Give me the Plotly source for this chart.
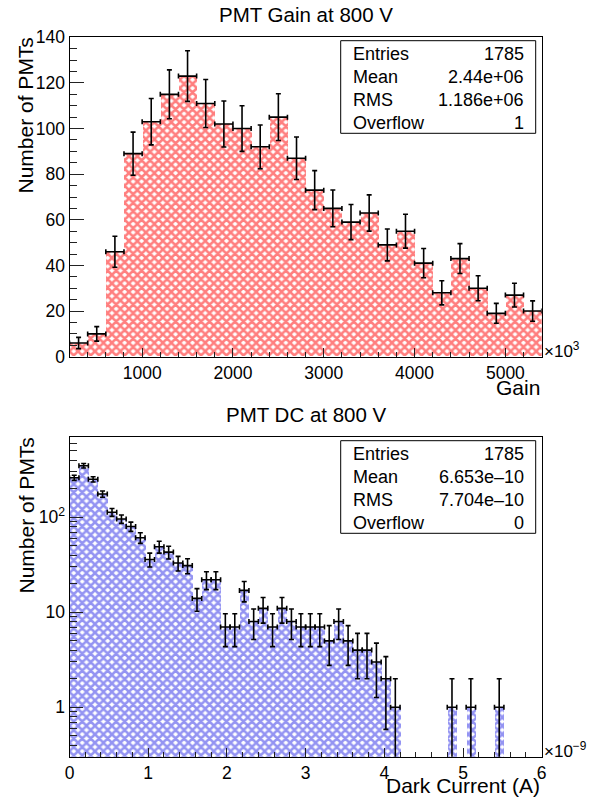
import numpy as np
import plotly.graph_objects as go

# ---------------- data ----------------
gain_bin_low = 200.0      # x10^3
gain_bin_width = 200.0
gain_counts = [6, 10, 46, 89, 103, 115, 123, 111, 102, 100, 92, 105, 87,
               73, 65, 59, 63, 49, 55, 41, 28, 43, 30, 19, 27, 20]
gain_stats_labels = ["Entries", "Mean", "RMS", "Overflow"]
gain_stats_values = ["1785", "2.44e+06", "1.186e+06", "1"]

dc_bin_low = 0.0          # x10^-9 A
dc_bin_width = 0.12
dc_counts = [261, 349, 251, 176, 113, 96, 80, 61, 36, 49,
             43, 33, 31, 14, 22, 22, 7, 7, 17, 8,
             11, 7, 11, 8, 7, 7, 7, 5, 8, 5,
             4, 4, 3, 2, 1, 0, 0, 0, 0, 0,
             1, 0, 1, 0, 0, 1, 0, 0, 0, 0]
dc_stats_labels = ["Entries", "Mean", "RMS", "Overflow"]
dc_stats_values = ["1785", "6.653e\u201310", "7.704e\u201310", "0"]

gain_xticks = [1000, 2000, 3000, 4000, 5000]
gain_yticks = [0, 20, 40, 60, 80, 100, 120, 140]
dc_xticks = [0, 1, 2, 3, 4, 5, 6]
dc_yticks = [1, 10, 100]
dc_yticktext = ["1", "10", "10<sup>2</sup>"]

# ---------------- geometry helpers ----------------
W, H = 602, 802
def px(x):
    return x / W
def py(y):
    return 1 - y / H

FONT = "Liberation Sans, Arial, Helvetica, sans-serif"
TICKF = 17.5
RED = "#ff0000"
BLUE = "#2a2ae6"

gc = np.array(gain_counts, dtype=float)
g_centers = gain_bin_low + gain_bin_width * (np.arange(len(gc)) + 0.5)
dc = np.array(dc_counts, dtype=float)
d_centers = dc_bin_low + dc_bin_width * (np.arange(len(dc)) + 0.5)

fig = go.Figure()

# top histogram
fig.add_trace(go.Bar(
    x=g_centers, y=gc, width=gain_bin_width, xaxis="x", yaxis="y",
    marker=dict(color="white", line=dict(width=0),
                pattern=dict(shape="x", fgcolor=RED, bgcolor="white", size=6, solidity=0.66)),
    showlegend=False, hoverinfo="skip"))
gm = gc > 0
fig.add_trace(go.Scatter(
    x=g_centers[gm], y=gc[gm], xaxis="x", yaxis="y", mode="markers",
    marker=dict(size=0.1, color="black"),
    error_y=dict(type="data", array=np.sqrt(gc[gm]), color="black", thickness=1.6, width=2.5),
    error_x=dict(type="constant", value=gain_bin_width / 2, color="black", thickness=1.6, width=2.5),
    showlegend=False, hoverinfo="skip"))

# bottom histogram
fig.add_trace(go.Bar(
    x=d_centers, y=dc, width=dc_bin_width, xaxis="x2", yaxis="y2",
    marker=dict(color="white", line=dict(width=0),
                pattern=dict(shape="x", fgcolor=BLUE, bgcolor="white", size=6, solidity=0.66)),
    showlegend=False, hoverinfo="skip"))
dm = dc > 0
fig.add_trace(go.Scatter(
    x=d_centers[dm], y=dc[dm], xaxis="x2", yaxis="y2", mode="markers",
    marker=dict(size=0.1, color="black"),
    error_y=dict(type="data", array=np.sqrt(dc[dm]), color="black", thickness=1.6, width=2.5),
    error_x=dict(type="constant", value=dc_bin_width / 2, color="black", thickness=1.6, width=2.5),
    showlegend=False, hoverinfo="skip"))

XD = [px(69.5), px(541.7)]
top_y = [py(356.7), py(37.3)]
bot_y = [py(756.7), py(437.3)]

axcommon = dict(showline=True, linecolor="black", linewidth=1, mirror=True,
                ticks="inside", tickcolor="#222", showgrid=False, zeroline=False,
                automargin=False,
                tickfont=dict(family=FONT, size=TICKF, color="black"))

fig.update_layout(
    width=W, height=H, margin=dict(l=0, r=0, t=0, b=0, autoexpand=False),
    paper_bgcolor="white", plot_bgcolor="white", bargap=0, barmode="overlay",
    xaxis=dict(domain=XD, anchor="y", range=[gain_bin_low, gain_bin_low + gain_bin_width * len(gc)],
               tickvals=gain_xticks, ticklen=9, tickwidth=1,
               minor=dict(dtick=200, tick0=0, ticks="inside", ticklen=4.5, tickcolor="#222"),
               **axcommon),
    yaxis=dict(domain=top_y, anchor="x", range=[0, 140], tickvals=gain_yticks,
               ticklen=14, tickwidth=1,
               minor=dict(dtick=5, tick0=0, ticks="inside", ticklen=7, tickcolor="#222"),
               **axcommon),
    xaxis2=dict(domain=XD, anchor="y2", range=[0, 6], tickvals=dc_xticks, ticklen=9, tickwidth=1,
                minor=dict(dtick=0.2, tick0=0, ticks="inside", ticklen=4.5, tickcolor="#222"),
                **axcommon),
    yaxis2=dict(domain=bot_y, anchor="x2", type="log", range=[-0.52, 2.842],
                tickvals=dc_yticks, ticktext=dc_yticktext, ticklen=13, tickwidth=1,
                minor=dict(tickvals=[0.3, 0.4, 0.5, 0.6, 0.7, 0.8, 0.9,
                                     2, 3, 4, 5, 6, 7, 8, 9,
                                     20, 30, 40, 50, 60, 70, 80, 90,
                                     200, 300, 400, 500, 600],
                           ticks="inside", ticklen=7, tickcolor="#222"),
                **axcommon),
)

ann = []
def txt(x, y, s, size, xanchor="center", yanchor="middle", angle=0):
    ann.append(dict(xref="paper", yref="paper", x=px(x), y=py(y), text=s, showarrow=False,
                    xanchor=xanchor, yanchor=yanchor, textangle=angle,
                    font=dict(family=FONT, size=size, color="black")))

txt(306, 14.5, "PMT Gain at 800 V", 20.5)
txt(306, 414, "PMT DC at 800 V", 20.5)
txt(25.5, 36, "Number of PMTs", 21, yanchor="top", angle=-90)
txt(25.5, 436, "Number of PMTs", 21, yanchor="top", angle=-90)
txt(542, 387, "Gain", 21, xanchor="right")
txt(542, 785, "Dark Current (A)", 21, xanchor="right")
txt(542, 350, "\u00d710<sup>3</sup>", 17, xanchor="left")
txt(542, 750, "\u00d710<sup>\u22129</sup>", 17, xanchor="left")

shapes = []
for off, labels, vals in [(0, gain_stats_labels, gain_stats_values),
                          (400, dc_stats_labels, dc_stats_values)]:
    shapes.append(dict(type="rect", xref="paper", yref="paper",
                       x0=px(340.7), x1=px(535.7), y0=py(off + 133.3), y1=py(off + 40.7),
                       line=dict(color="black", width=1), fillcolor="white", layer="above"))
    for i, (l, v) in enumerate(zip(labels, vals)):
        yy = off + [53.8, 77.0, 99.8, 123.0][i]
        txt(350.7, yy, l, 18, xanchor="left")
        txt(525.5, yy, v, 18, xanchor="right")

fig.update_layout(annotations=ann, shapes=shapes)
fig.write_html("out.html", config={"displayModeBar": False},
               post_script="document.body.style.margin='0px';document.body.style.padding='0px';")
